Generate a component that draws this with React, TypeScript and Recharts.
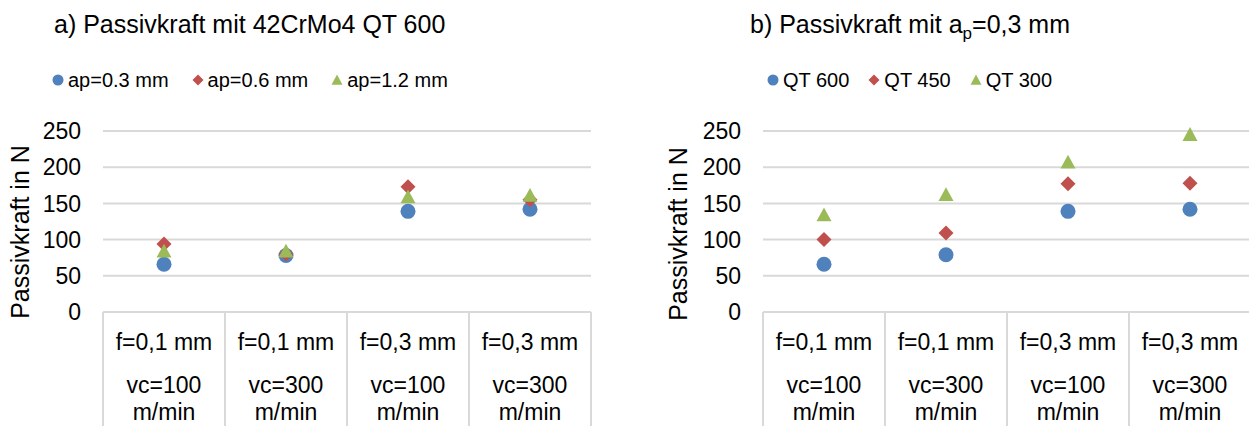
import React from 'react';
import { ScatterChart, Scatter, XAxis, YAxis, CartesianGrid } from 'recharts';

// categories (two label rows per category)
const feeds = ['f=0,1 mm', 'f=0,1 mm', 'f=0,3 mm', 'f=0,3 mm'];
const speeds = ['vc=100', 'vc=300', 'vc=100', 'vc=300'];
const speedUnit = 'm/min';
const yTicks = [0, 50, 100, 150, 200, 250];

// a) 42CrMo4 QT 600, different cutting depths
const apNames = ['ap=0.3 mm', 'ap=0.6 mm', 'ap=1.2 mm'];
const ap03 = [66, 78, 139, 142];
const ap06 = [94, 80, 173, 155];
const ap12 = [84, 84, 159, 161];

// b) ap=0,3 mm, different heat treatments
const qtNames = ['QT 600', 'QT 450', 'QT 300'];
const qt600 = [66, 79, 139, 142];
const qt450 = [100, 109, 177, 178];
const qt300 = [134, 162, 207, 245];

const colors = ['#4F81BD', '#C0504D', '#9BBB59'];
const kinds = ['circle', 'diamond', 'triangle'];

const GRID = '#D9D9D9';
const FONT = '"Liberation Sans", Arial, sans-serif';
const CHART_W = 620;
const CHART_H = 426;
const PLOT_W = 488;
const AXIS_H = 114;

const Marker = ({ cx, cy, kind, color, s }: any) => {
  const h = s / 2;
  if (kind === 'circle') return <circle cx={cx} cy={cy} r={h} fill={color} />;
  if (kind === 'diamond')
    return <polygon points={`${cx},${cy - h} ${cx + h},${cy} ${cx},${cy + h} ${cx - h},${cy}`} fill={color} />;
  return <polygon points={`${cx},${cy - h} ${cx + h},${cy + h * 0.85} ${cx - h},${cy + h * 0.85}`} fill={color} />;
};

const CategoryTick = (props: any) => {
  const { x, y, index } = props;
  const half = PLOT_W / feeds.length / 2;
  const txt = { textAnchor: 'middle' as const, fontSize: 23, fill: '#000', fontFamily: FONT, dy: '0.35em' };
  return (
    <g>
      <line x1={x - half} x2={x - half} y1={y} y2={y + AXIS_H} stroke={GRID} strokeWidth={2} />
      {index === feeds.length - 1 && (
        <line x1={x + half} x2={x + half} y1={y} y2={y + AXIS_H} stroke={GRID} strokeWidth={2} />
      )}
      <text x={x} y={y + 30} {...txt}>{feeds[index]}</text>
      <text x={x} y={y + 73} {...txt}>{speeds[index]}</text>
      <text x={x} y={y + 100} {...txt}>{speedUnit}</text>
    </g>
  );
};

const Panel = ({ series, yWidth }: { series: number[][]; yWidth: number }) => {
  const right = CHART_W - yWidth - PLOT_W;
  return (
    <ScatterChart width={CHART_W} height={CHART_H} margin={{ top: 131, right, bottom: 0, left: 0 }}>
      <CartesianGrid vertical={false} stroke={GRID} strokeWidth={2} />
      <XAxis
        type="number"
        dataKey="pos"
        domain={[0, feeds.length]}
        ticks={feeds.map((_, i) => i + 0.5)}
        height={AXIS_H}
        axisLine={false}
        tickLine={false}
        tickSize={0}
        tickMargin={0}
        tick={<CategoryTick />}
        interval={0}
      />
      <YAxis
        type="number"
        dataKey="v"
        domain={[0, 250]}
        ticks={yTicks}
        width={yWidth}
        axisLine={false}
        tickLine={false}
        tickSize={0}
        tickMargin={22}
        tick={{ fill: '#000', fontSize: 23, fontFamily: FONT }}
        interval={0}
      />
      {series.map((vals, k) => (
        <Scatter
          key={k}
          data={vals.map((v, i) => ({ pos: i + 0.5, v }))}
          isAnimationActive={false}
          shape={(p: any) => <Marker cx={p.cx} cy={p.cy} kind={kinds[k]} color={colors[k]} s={15} />}
        />
      ))}
    </ScatterChart>
  );
};

const Legend = ({ names, left, gap }: { names: string[]; left: number; gap: number }) => (
  <div style={{ position: 'absolute', left, top: 70, display: 'flex', fontSize: 20, lineHeight: '20px', fontFamily: FONT }}>
    {names.map((n, k) => (
      <div key={n} style={{ display: 'flex', alignItems: 'center', marginRight: gap }}>
        <svg width={12} height={12} style={{ marginRight: 4 }}>
          <Marker cx={6} cy={6} kind={kinds[k]} color={colors[k]} s={11} />
        </svg>
        <span>{n}</span>
      </div>
    ))}
  </div>
);

export default function App() {
  return (
    <div style={{ position: 'absolute', top: 0, left: 0, width: 1249, height: 426, overflow: 'hidden', background: '#fff', fontFamily: FONT }}>
      <svg width={1249} height={426} style={{ position: 'absolute', left: 0, top: 0 }}>
        <text x={54} y={33} fontSize={25} fontFamily={FONT} fill="#000">a) Passivkraft mit 42CrMo4 QT 600</text>
        <text x={750} y={33} fontSize={25} fontFamily={FONT} fill="#000">
          b) Passivkraft mit a<tspan fontSize={17} dy={6}>p</tspan><tspan dy={-6}>=0,3 mm</tspan>
        </text>
        <text transform="translate(20,232) rotate(-90)" textAnchor="middle" dy="0.35em" fontSize={25} fontFamily={FONT} fill="#000">Passivkraft in N</text>
        <text transform="translate(678,234) rotate(-90)" textAnchor="middle" dy="0.35em" fontSize={25} fontFamily={FONT} fill="#000">Passivkraft in N</text>
      </svg>
      <Legend names={apNames} left={52} gap={23} />
      <Legend names={qtNames} left={767} gap={19} />
      <div style={{ position: 'absolute', left: 0, top: 0 }}>
        <Panel series={[ap03, ap06, ap12]} yWidth={103} />
      </div>
      <div style={{ position: 'absolute', left: 640, top: 0 }}>
        <Panel series={[qt600, qt450, qt300]} yWidth={123} />
      </div>
    </div>
  );
}
